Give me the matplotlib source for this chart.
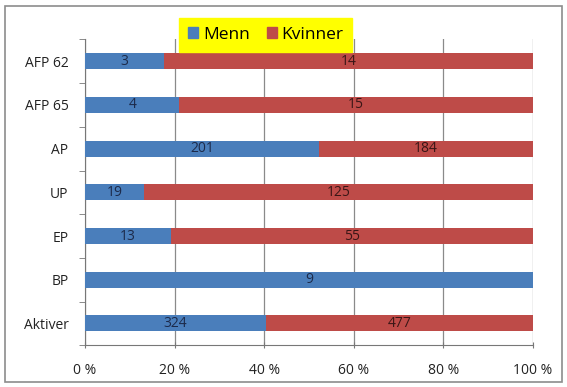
import numpy as np
import matplotlib
matplotlib.use('Agg')
import matplotlib.pyplot as plt
from matplotlib.patches import Rectangle
from matplotlib.ticker import FixedLocator, FuncFormatter

plt.rcParams.update({'font.family': ['Open Sans', 'DejaVu Sans'], 'font.size': 10})

categories = ['AFP 62', 'AFP 65', 'AP', 'UP', 'EP', 'BP', 'Aktiver']
menn = [3, 4, 201, 19, 13, 9, 324]
kvinner = [14, 15, 184, 125, 55, 0, 477]

BLUE = '#4A7EBB'
RED = '#BE4B48'

fig = plt.figure(figsize=(5.67, 3.87), dpi=100)
fig.patches.append(Rectangle((5/567, 5/387), 557/567, 376/387, transform=fig.transFigure,
                             fill=False, edgecolor='#8c8c8c', linewidth=1.2))
ax = fig.add_axes([0.150, 0.108, 0.790, 0.790])

m = np.array(menn, dtype=float)
k = np.array(kvinner, dtype=float)
tot = m + k
mp = m / tot * 100
kp = k / tot * 100
y = np.arange(len(categories))

ax.barh(y, mp, height=0.37, color=BLUE, zorder=3)
ax.barh(y, kp, left=mp, height=0.37, color=RED, zorder=3)

for i in range(len(categories)):
    if m[i] > 0:
        ax.text(mp[i] / 2, y[i], f'{menn[i]}', ha='center', va='center',
                fontsize=10, color='#1c2a4a', zorder=4)
    if k[i] > 0:
        ax.text(mp[i] + kp[i] / 2, y[i], f'{kvinner[i]}', ha='center', va='center',
                fontsize=10, color='#3a1616', zorder=4)

ax.set_xlim(0, 100)
ax.set_ylim(len(categories) - 0.5, -0.5)
ax.set_xticks([0, 20, 40, 60, 80, 100])
ax.xaxis.set_major_formatter(FuncFormatter(lambda v, p: f'{v:.0f} %'))
ax.set_yticks(y)
ax.set_yticklabels(categories)
ax.yaxis.set_minor_locator(FixedLocator(np.arange(-0.5, len(categories), 1)))
ax.tick_params(axis='y', which='major', length=0, pad=12, labelsize=10, colors='#222222')
ax.tick_params(axis='y', which='minor', length=4, color='#777777')
ax.tick_params(axis='x', length=5, direction='inout', color='#777777', pad=10,
               labelsize=10, labelcolor='#222222')
ax.grid(axis='x', color='#8a8a8a', linewidth=0.9, zorder=0)
for s in ['top', 'right']:
    ax.spines[s].set_visible(False)
for s in ['left', 'bottom']:
    ax.spines[s].set_color('#777777')

leg = fig.legend(handles=[Rectangle((0, 0), 1, 1, color=BLUE, label='Menn'),
                          Rectangle((0, 0), 1, 1, color=RED, label='Kvinner')],
                 loc='center', bbox_to_anchor=(0.469, 0.91), ncol=2, fontsize=12.5,
                 frameon=True, fancybox=False, handlelength=0.55, handleheight=0.55,
                 handletextpad=0.3, columnspacing=1.0, borderpad=0.5)
leg.get_frame().set_facecolor('#FFFF00')
leg.get_frame().set_edgecolor('#FFFF00')
leg.get_frame().set_alpha(1)

fig.savefig('out.png', dpi=100)
